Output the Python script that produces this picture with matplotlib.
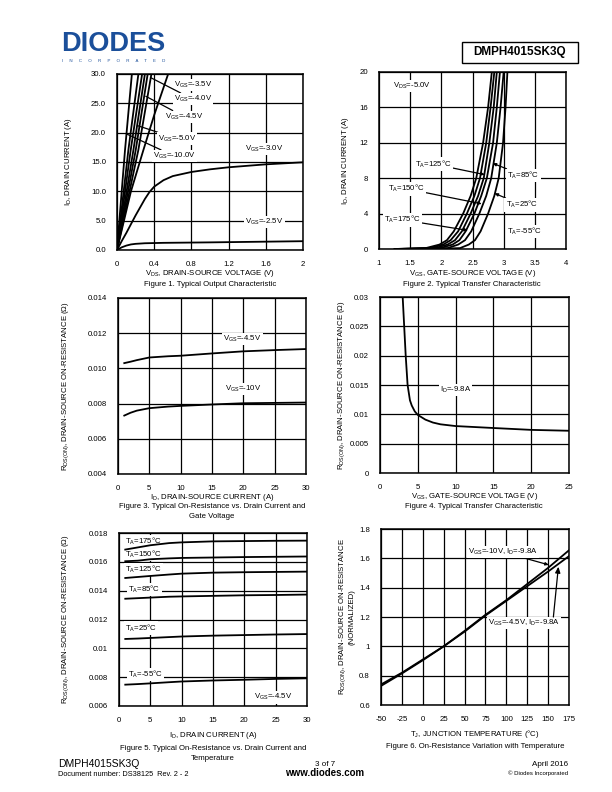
import numpy as np
import matplotlib
matplotlib.use("Agg")
import matplotlib.pyplot as plt
from matplotlib.patches import Rectangle

plt.rcParams['font.family'] = ['Liberation Sans', 'DejaVu Sans']
plt.rcParams['mathtext.fontset'] = 'custom'
plt.rcParams['mathtext.rm'] = 'Liberation Sans'
plt.rcParams['mathtext.it'] = 'Liberation Sans'

W, H = 612, 792

# ---------- data ----------
# Fig 1: output characteristic (VDS in V, ID in A)
f1_steep = {  # VGS curves that leave the top of the plot
    "-10.0V": ([0, 0.086, 0.16], [0, 17, 30]),
    "-8.0V":  ([0, 0.122, 0.23], [0, 17, 30]),
    "-6.0V":  ([0, 0.147, 0.27], [0, 17, 30]),
    "-5.0V":  ([0, 0.176, 0.30], [0, 17, 30]),
    "-4.5V":  ([0, 0.201, 0.33], [0, 17, 30]),
    "-4.0V":  ([0, 0.229, 0.37], [0, 17, 30]),
    "-3.5V":  ([0, 0.15, 0.283, 0.40, 0.55], [0, 10, 17, 23, 30]),
}
f1_v30 = [0, 0.05, 0.1, 0.2, 0.3, 0.35, 0.4, 0.5, 0.6, 0.8, 1.0, 1.2, 1.6, 2.0]
f1_i30 = [0, 1.5, 2.9, 5.9, 8.7, 9.9, 10.8, 11.9, 12.6, 13.3, 13.75, 14.1, 14.6, 14.95]
f1_v25 = [0, 0.05, 0.1, 0.15, 0.2, 0.3, 0.5, 1.0, 1.5, 2.0]
f1_i25 = [0, 0.45, 0.75, 0.95, 1.05, 1.15, 1.22, 1.3, 1.4, 1.5]

# Fig 2: transfer characteristic (ID in A -> VGS in V)
f2_id = [0, 0.1, 0.5, 1, 2, 4, 6, 8, 12, 16, 20]
f2_vgs = {
    175: [1.25, 1.75, 1.97, 2.09, 2.20, 2.35, 2.47, 2.56, 2.67, 2.75, 2.81],
    150: [1.25, 1.82, 2.03, 2.15, 2.27, 2.41, 2.53, 2.62, 2.72, 2.79, 2.85],
    125: [1.30, 1.90, 2.10, 2.22, 2.33, 2.47, 2.59, 2.68, 2.77, 2.84, 2.89],
    85:  [1.40, 1.98, 2.18, 2.29, 2.39, 2.53, 2.64, 2.73, 2.83, 2.89, 2.94],
    25:  [1.55, 2.10, 2.27, 2.38, 2.48, 2.61, 2.72, 2.80, 2.89, 2.95, 3.00],
    -55: [1.80, 2.30, 2.44, 2.54, 2.63, 2.75, 2.85, 2.92, 2.99, 3.03, 3.06],
}

# Fig 3: RDS(on) vs ID
f3_id = [1, 2, 3, 5, 8, 10, 15, 20, 25, 30]
f3_r45 = [0.0103, 0.01038, 0.01047, 0.01062, 0.01069, 0.01072, 0.01085, 0.01097, 0.01104, 0.01110]
f3_r10 = [0.00732, 0.00748, 0.00760, 0.00774, 0.00783, 0.00787, 0.00795, 0.00802, 0.00804, 0.00806]

# Fig 4: RDS(on) vs VGS
f4_vgs = [3.0, 3.2, 3.4, 3.65, 3.96, 4.2, 4.6, 5, 6, 7, 8, 10, 15, 20, 25]
f4_r = [0.030, 0.025, 0.020, 0.015, 0.0124, 0.0115, 0.0105, 0.0099, 0.0091, 0.0086,
        0.0083, 0.0080, 0.00767, 0.00735, 0.0072]

# Fig 5: RDS(on) vs ID and temperature
f5_id = [1, 3, 5, 8, 10, 15, 20, 25, 30]
f5_r = {
    175: [0.01685, 0.01700, 0.01715, 0.01730, 0.01735, 0.01742, 0.01744, 0.01746, 0.01747],
    150: [0.01604, 0.01608, 0.01618, 0.01624, 0.01627, 0.01630, 0.01633, 0.01635, 0.01637],
    125: [0.01488, 0.01495, 0.01502, 0.01512, 0.01518, 0.01525, 0.01528, 0.01530, 0.01532],
    85:  [0.01344, 0.01348, 0.01352, 0.01358, 0.01360, 0.01364, 0.01368, 0.01370, 0.01373],
    25:  [0.01065, 0.01068, 0.01072, 0.01078, 0.01082, 0.01088, 0.01092, 0.01096, 0.01099],
    -55: [0.00748, 0.00752, 0.00757, 0.00765, 0.00770, 0.00777, 0.00782, 0.00788, 0.00792],
}

# Fig 6: normalized RDS(on) vs TJ
f6_t = [-50, -25, 0, 25, 50, 75, 100, 125, 150, 175]
f6_r10 = [0.73, 0.815, 0.905, 1.0, 1.105, 1.215, 1.315, 1.425, 1.535, 1.655]
f6_r45 = [0.74, 0.82, 0.91, 1.0, 1.10, 1.21, 1.31, 1.41, 1.51, 1.615]

# tick labels
f1_xt = [0, 0.4, 0.8, 1.2, 1.6, 2]; f1_xl = ["0", "0.4", "0.8", "1.2", "1.6", "2"]
f1_yt = [0, 5, 10, 15, 20, 25, 30]; f1_yl = ["0.0", "5.0", "10.0", "15.0", "20.0", "25.0", "30.0"]
f2_xt = [1, 1.5, 2, 2.5, 3, 3.5, 4]; f2_xl = ["1", "1.5", "2", "2.5", "3", "3.5", "4"]
f2_yt = [0, 4, 8, 12, 16, 20]; f2_yl = ["0", "4", "8", "12", "16", "20"]
f3_xt = [0, 5, 10, 15, 20, 25, 30]; f3_xl = [str(v) for v in f3_xt]
f3_yt = [0.004, 0.006, 0.008, 0.010, 0.012, 0.014]
f3_yl = ["0.004", "0.006", "0.008", "0.010", "0.012", "0.014"]
f4_xt = [0, 5, 10, 15, 20, 25]; f4_xl = [str(v) for v in f4_xt]
f4_yt = [0, 0.005, 0.01, 0.015, 0.02, 0.025, 0.03]
f4_yl = ["0", "0.005", "0.01", "0.015", "0.02", "0.025", "0.03"]
f5_xt = [0, 5, 10, 15, 20, 25, 30]; f5_xl = [str(v) for v in f5_xt]
f5_yt = [0.006, 0.008, 0.01, 0.012, 0.014, 0.016, 0.018]
f5_yl = ["0.006", "0.008", "0.01", "0.012", "0.014", "0.016", "0.018"]
f6_xt = [-50, -25, 0, 25, 50, 75, 100, 125, 150, 175]; f6_xl = [str(v) for v in f6_xt]
f6_yt = [0.6, 0.8, 1.0, 1.2, 1.4, 1.6, 1.8]
f6_yl = ["0.6", "0.8", "1", "1.2", "1.4", "1.6", "1.8"]

FS = 5.6
LW = 1.3
WB = dict(boxstyle="square,pad=0.15", fc="white", ec="none")
TZ = 1.8  # labels above the grid, below the curves
DEG = "\u00b0C"

fig = plt.figure(figsize=(W / 100, H / 100), dpi=100)


def fx(px):
    return px / W


def fy(py):
    return 1 - py / H


def make_ax(l, r, t, b, xt, xl, yt, yl, xlim, ylim):
    ax = fig.add_axes([fx(l), fy(b), (r - l) / W, (b - t) / H])
    ax.set_xlim(*xlim); ax.set_ylim(*ylim)
    ax.set_xticks(xt); ax.set_xticklabels(xl)
    ax.set_yticks(yt); ax.set_yticklabels(yl)
    ax.tick_params(length=0, labelsize=FS, pad=8)
    ax.grid(True, color="black", lw=0.9)
    for s in ax.spines.values():
        s.set_linewidth(1.1)
    return ax


def sub(base, s):
    return base + r"$_{\rm " + s + "}$"


def label(ax, x, y, txt):
    ax.text(x, y, txt, fontsize=FS, va="center", bbox=WB, zorder=TZ)


def caption(xc, py, txt):
    fig.text(fx(xc), fy(py), txt, ha="center", va="center", fontsize=FS)


# ---------- header ----------
fig.text(fx(61), fy(44), "DIODES", fontsize=19.5, fontweight="bold", color="#1b4f9a",
         ha="left", va="center")
fig.text(fx(62), fy(61), "I     N     C     O     R     P     O     R     A     T     E     D",
         fontsize=3.2, color="#1b4f9a", ha="left", va="center")
fig.patches.append(Rectangle((fx(462), fy(63)), (578 - 462) / W, 21 / H,
                             transform=fig.transFigure, fill=False, lw=1.0, ec="black"))
fig.text(fx(520), fy(52.5), "DMPH4015SK3Q", fontsize=8.5, fontweight="bold",
         ha="center", va="center")

# ---------- Figure 1 ----------
ax = make_ax(117, 303, 74, 250, f1_xt, f1_xl, f1_yt, f1_yl, (0, 2), (0, 30))
for k, (v, i) in f1_steep.items():
    ax.plot(v, i, color="black", lw=LW)
ax.plot(f1_v30, f1_i30, color="black", lw=LW)
ax.plot(f1_v25, f1_i25, color="black", lw=LW)
label(ax, 0.61, 28.1, sub("V", "GS") + "=-3.5V")
for lab, xy, xyt in [("-4.0V", (0.36, 29.4), (0.61, 25.7)),
                     ("-4.5V", (0.31, 26.2), (0.52, 22.7)),
                     ("-5.0V", (0.22, 21.2), (0.44, 19.0)),
                     ("-10.0V", (0.10, 19.8), (0.39, 16.0))]:
    ax.annotate(sub("V", "GS") + "=" + lab, xy=xy, xytext=xyt, fontsize=FS, va="center",
                bbox=WB, arrowprops=dict(arrowstyle="-", lw=0.9, color="black",
                                         shrinkA=0, shrinkB=0))
label(ax, 1.38, 17.2, sub("V", "GS") + "=-3.0V")
label(ax, 1.38, 4.8, sub("V", "GS") + "=-2.5V")
ax.set_xlabel(sub("V", "DS") + ", DRAIN-SOURCE VOLTAGE (V)", fontsize=FS)
ax.xaxis.set_label_coords(0.5, -0.10)
ax.set_ylabel(sub("I", "D") + ", DRAIN CURRENT (A)", fontsize=FS)
ax.yaxis.set_label_coords(-0.23, 0.5)
caption(210, 285, "Figure 1. Typical Output Characteristic")

# ---------- Figure 2 ----------
ax = make_ax(379, 566, 72, 249, f2_xt, f2_xl, f2_yt, f2_yl, (1, 4), (0, 20))
for t, v in f2_vgs.items():
    ax.plot(v, f2_id, color="black", lw=LW)
label(ax, 1.22, 18.4, sub("V", "DS") + "=-5.0V")
arr = dict(arrowstyle="-|>,head_length=0.35,head_width=0.15", lw=0.9, color="black",
           shrinkA=0, shrinkB=0)
for lab, xy, xyt in [("125", (2.70, 8.4), (1.58, 9.6)),
                     ("85", (2.82, 9.7), (3.06, 8.3)),
                     ("150", (2.65, 5.1), (1.15, 6.8)),
                     ("25", (2.85, 6.3), (3.03, 5.0)),
                     ("175", (2.43, 2.1), (1.08, 3.3))]:
    ax.annotate(sub("T", "A") + "=" + lab + DEG, xy=xy, xytext=xyt, fontsize=FS,
                va="center", ha="left", bbox=WB, arrowprops=arr)
label(ax, 3.06, 2.0, sub("T", "A") + "=-55" + DEG)
ax.set_xlabel(sub("V", "GS") + ", GATE-SOURCE VOLTAGE (V)", fontsize=FS)
ax.xaxis.set_label_coords(0.5, -0.105)
ax.set_ylabel(sub("I", "D") + ", DRAIN CURRENT (A)", fontsize=FS)
ax.yaxis.set_label_coords(-0.15, 0.5)
caption(472, 284, "Figure 2. Typical Transfer Characteristic")

# ---------- Figure 3 ----------
ax = make_ax(118, 306, 298, 474, f3_xt, f3_xl, f3_yt, f3_yl, (0, 30), (0.004, 0.014))
ax.plot(f3_id, f3_r45, color="black", lw=LW)
ax.plot(f3_id, f3_r10, color="black", lw=LW)
label(ax, 16.8, 0.01167, sub("V", "GS") + "=-4.5V")
label(ax, 17.1, 0.00883, sub("V", "GS") + "=-10V")
ax.set_xlabel(sub("I", "D") + ", DRAIN-SOURCE CURRENT (A)", fontsize=FS)
ax.xaxis.set_label_coords(0.5, -0.105)
ax.set_ylabel(sub("R", "DS(ON)") + ", DRAIN-SOURCE ON-RESISTANCE (\u03a9)", fontsize=FS)
ax.yaxis.set_label_coords(-0.25, 0.5)
caption(212, 507, "Figure 3. Typical On-Resistance vs. Drain Current and")
caption(212, 517, "Gate Voltage")

# ---------- Figure 4 ----------
ax = make_ax(380, 569, 297, 473, f4_xt, f4_xl, f4_yt, f4_yl, (0, 25), (0, 0.03))
ax.plot(f4_vgs, f4_r, color="black", lw=LW)
label(ax, 7.9, 0.01415, sub("I", "D") + "=-9.8A")
ax.set_xlabel(sub("V", "GS") + ", GATE-SOURCE VOLTAGE (V)", fontsize=FS)
ax.xaxis.set_label_coords(0.5, -0.105)
ax.set_ylabel(sub("R", "DS(ON)") + ", DRAIN-SOURCE ON-RESISTANCE (\u03a9)", fontsize=FS)
ax.yaxis.set_label_coords(-0.175, 0.5)
caption(474, 507, "Figure 4. Typical Transfer Characteristic")

# ---------- Figure 5 ----------
ax = make_ax(119, 307, 533, 706, f5_xt, f5_xl, f5_yt, f5_yl, (0, 30), (0.006, 0.018))
for t, r in f5_r.items():
    ax.plot(f5_id, r, color="black", lw=LW)
for lab, x, y in [("175", 0.95, 0.01742), ("150", 0.95, 0.01654), ("125", 0.95, 0.01546),
                  ("85", 1.5, 0.01407), ("25", 0.95, 0.01141), ("-55", 1.5, 0.00817)]:
    label(ax, x, y, sub("T", "A") + "=" + lab + DEG)
label(ax, 21.5, 0.0066, sub("V", "GS") + "=-4.5V")
ax.set_xlabel(sub("I", "D") + ", DRAIN CURRENT (A)", fontsize=FS)
ax.xaxis.set_label_coords(0.5, -0.14)
ax.set_ylabel(sub("R", "DS(ON)") + ", DRAIN-SOURCE ON-RESISTANCE (\u03a9)", fontsize=FS)
ax.yaxis.set_label_coords(-0.255, 0.5)
caption(213, 749, "Figure 5. Typical On-Resistance vs. Drain Current and")
caption(213, 759, "Temperature")

# ---------- Figure 6 ----------
ax = make_ax(381, 569, 529, 705, f6_xt, f6_xl, f6_yt, f6_yl, (-50, 175), (0.6, 1.8))
ax.plot(f6_t, f6_r10, color="black", lw=LW)
ax.plot(f6_t, f6_r45, color="black", lw=LW)
ax.annotate(sub("V", "GS") + "=-10V, " + sub("I", "D") + "=-9.8A", xy=(151, 1.555),
            xytext=(54, 1.643), fontsize=FS, va="center", bbox=WB, arrowprops=arr)
ax.annotate("", xy=(162.3, 1.543), xytext=(156.3, 1.20), arrowprops=arr)
label(ax, 78, 1.159, sub("V", "GS") + "=-4.5V, " + sub("I", "D") + "=-9.8A")
ax.set_xlabel(sub("T", "J") + ", JUNCTION TEMPERATURE (" + DEG + ")", fontsize=FS)
ax.xaxis.set_label_coords(0.5, -0.13)
ax.set_ylabel(sub("R", "DS(ON)") + ", DRAIN-SOURCE ON-RESISTANCE\n(NORMALIZED)",
              fontsize=FS, linespacing=1.1)
ax.yaxis.set_label_coords(-0.135, 0.5)
caption(475, 746, "Figure 6. On-Resistance Variation with Temperature")

# ---------- footer ----------
fig.text(fx(58), fy(764), "DMPH4015SK3Q", fontsize=7.5, ha="left", va="center")
fig.text(fx(58), fy(774), "Document number: DS38125  Rev. 2 - 2", fontsize=5.3,
         ha="left", va="center")
fig.text(fx(325), fy(764), "3 of 7", fontsize=5.8, ha="center", va="center")
fig.text(fx(325), fy(773), "www.diodes.com", fontsize=7, fontweight="bold",
         ha="center", va="center")
fig.text(fx(568), fy(764), "April 2016", fontsize=5.8, ha="right", va="center")
fig.text(fx(568), fy(773), "\u00a9 Diodes Incorporated", fontsize=4.3, ha="right",
         va="center")

fig.savefig("out.png", dpi=100)
